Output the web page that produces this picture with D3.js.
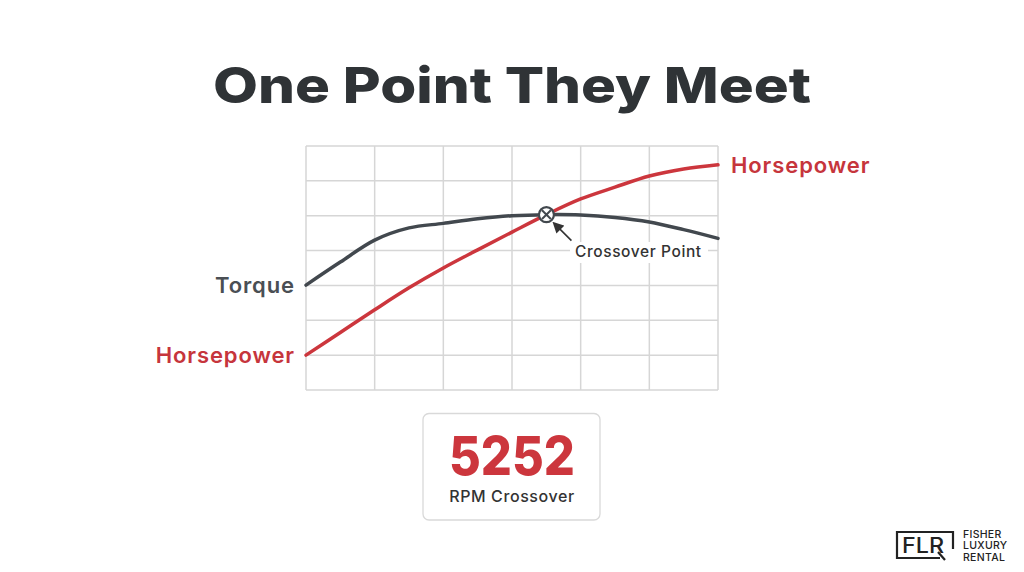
<!DOCTYPE html>
<html><head><meta charset="utf-8">
<script src="https://cdn.jsdelivr.net/npm/d3@7"></script>
<style>
html,body{margin:0;padding:0;background:#fff;}
svg{display:block;font-family:Inter,"Open Sans",sans-serif;}
</style></head>
<body>
<svg id="c" width="1024" height="572"></svg>
<script>
// ---- data ----
const rpm        = [0, 750, 1500, 2250, 3000, 3750, 4500, 5252, 6000, 6750, 7500, 8250, 9000];
const torque     = [301, 367, 430, 465, 478, 491, 500, 503, 502, 495, 482, 460, 435];
const horsepower = [100, 165, 230, 293, 350, 402, 453, 503, 548, 582, 614, 634, 646];
const xTicks = [0, 1500, 3000, 4500, 6000, 7500, 9000];
const yTicks = [0, 100, 200, 300, 400, 500, 600, 700];
const crossoverRpm = 5252;
const crossoverVal = 503;
const titleText = "One Point They Meet";
const boxValue = "5252";
const boxLabel = "RPM Crossover";
const brandMark = "FLR";
const brandLines = ["FISHER", "LUXURY", "RENTAL"];

const svg = d3.select("#c");
const RED = "#cc363d", DARK = "#42484e", GRID = "#d6d6d6";

const x = d3.scaleLinear().domain([0, 9000]).range([306, 718]);
const y = d3.scaleLinear().domain([0, 700]).range([390, 146]);

// title
svg.append("text").attr("x", 512).attr("y", 103).attr("text-anchor", "middle")
  .attr("font-size", 50).attr("font-weight", 800).attr("fill", "#2f3336")
  .attr("textLength", 598).attr("lengthAdjust", "spacingAndGlyphs")
  .text(titleText);

// grid
const g = svg.append("g");
g.selectAll("line.v").data(xTicks).join("line")
  .attr("x1", d => x(d)).attr("x2", d => x(d)).attr("y1", y(0)).attr("y2", y(700))
  .attr("stroke", GRID).attr("stroke-width", 1.5);
g.selectAll("line.h").data(yTicks).join("line")
  .attr("y1", d => y(d)).attr("y2", d => y(d)).attr("x1", x(0)).attr("x2", x(9000))
  .attr("stroke", GRID).attr("stroke-width", 1.5);

const line = d3.line().x(d => x(d[0])).y(d => y(d[1])).curve(d3.curveCatmullRom.alpha(0.5));
svg.append("path").datum(rpm.map((r, i) => [r, torque[i]]))
  .attr("d", line).attr("fill", "none").attr("stroke", DARK).attr("stroke-width", 3.5)
  .attr("stroke-linecap", "round");
svg.append("path").datum(rpm.map((r, i) => [r, horsepower[i]]))
  .attr("d", line).attr("fill", "none").attr("stroke", RED).attr("stroke-width", 3.5)
  .attr("stroke-linecap", "round");

// crossover marker
const cx = x(crossoverRpm), cy = y(crossoverVal);
svg.append("circle").attr("cx", cx).attr("cy", cy).attr("r", 7.5)
  .attr("fill", "#fff").attr("stroke", DARK).attr("stroke-width", 2.2);
const k = 4.4;
svg.append("path").attr("d", `M${cx-k},${cy-k}L${cx+k},${cy+k}M${cx+k},${cy-k}L${cx-k},${cy+k}`)
  .attr("stroke", DARK).attr("stroke-width", 2);

// arrow
svg.append("defs").append("marker").attr("id", "ah").attr("viewBox", "0 0 10 10")
  .attr("refX", 5).attr("refY", 5).attr("markerWidth", 7).attr("markerHeight", 7)
  .attr("orient", "auto-start-reverse")
  .append("path").attr("d", "M0,0L10,5L0,10z").attr("fill", "#333");
svg.append("line").attr("x1", cx + 25).attr("y1", cy + 26).attr("x2", cx + 10).attr("y2", cy + 11)
  .attr("stroke", "#333").attr("stroke-width", 1.6).attr("marker-end", "url(#ah)");
// label with white background
const lblX = 575, lblY = 257;
svg.append("rect").attr("x", lblX - 5).attr("y", lblY - 15).attr("width", 138).attr("height", 21).attr("fill", "#fff");
svg.append("text").attr("x", lblX).attr("y", lblY).attr("font-size", 15.5).attr("fill", "#333")
  .attr("font-weight", 500).attr("letter-spacing", 0.6).text("Crossover Point");

// series labels
const lab = (xx, yy, anchor, color, txt) => svg.append("text").attr("x", xx).attr("y", yy)
  .attr("text-anchor", anchor).attr("font-size", 22).attr("font-weight", 600)
  .attr("letter-spacing", 0.9).attr("fill", color).text(txt);
lab(295, y(torque[0]) + 8, "end", "#4a4f54", "Torque");
lab(295, y(horsepower[0]) + 8, "end", "#c6353c", "Horsepower");
lab(731, y(horsepower[horsepower.length - 1]) + 8, "start", "#c6353c", "Horsepower");

// value box
svg.append("rect").attr("x", 423).attr("y", 413.5).attr("width", 177).attr("height", 106.5).attr("rx", 6)
  .attr("fill", "#fff").attr("stroke", "#d9d9d9").attr("stroke-width", 1.3);
svg.append("text").attr("x", 512).attr("y", 475).attr("text-anchor", "middle")
  .attr("font-size", 54).attr("font-weight", 800).attr("fill", RED)
  .attr("textLength", 126).attr("lengthAdjust", "spacingAndGlyphs").text(boxValue);
svg.append("text").attr("x", 512).attr("y", 502).attr("text-anchor", "middle")
  .attr("font-size", 16).attr("font-weight", 500).attr("fill", "#333")
  .attr("letter-spacing", 0.6).text(boxLabel);

// logo
const lg = svg.append("g");
lg.append("path").attr("d", "M940,558L897,558L897,532L953,532L953,549")
  .attr("fill", "none").attr("stroke", "#222").attr("stroke-width", 2.2);
lg.append("text").attr("x", 902).attr("y", 553).attr("font-size", 21).attr("font-weight", 500)
  .attr("fill", "#222").attr("textLength", 42).attr("lengthAdjust", "spacingAndGlyphs").text(brandMark);
lg.append("line").attr("x1", 938).attr("y1", 552).attr("x2", 945).attr("y2", 560)
  .attr("stroke", "#222").attr("stroke-width", 2.2);
lg.selectAll("text.b").data(brandLines).join("text")
  .attr("x", 963).attr("y", (d, i) => 538 + i * 11.3).attr("font-size", 10.5)
  .attr("font-weight", 500).attr("fill", "#222").attr("letter-spacing", 0.3).text(d => d);
</script>
</body></html>
